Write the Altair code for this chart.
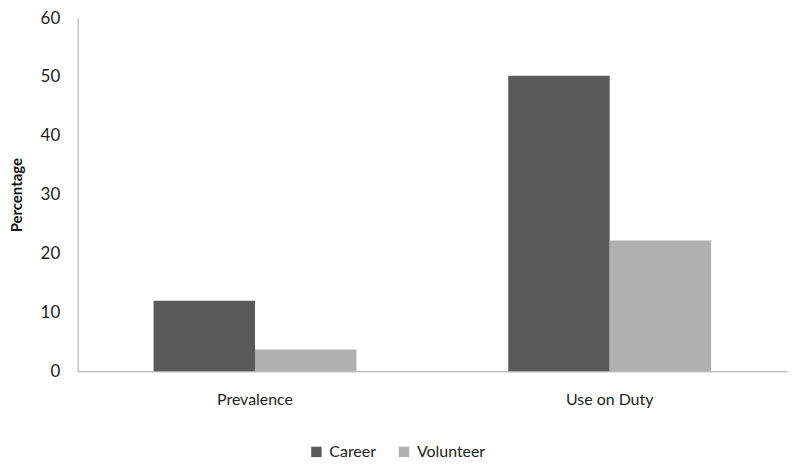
import altair as alt
import pandas as pd

categories = ["Prevalence", "Use on Duty"]
series = ["Career", "Volunteer"]
career = [12.0, 50.2]
volunteer = [3.7, 22.2]

rows = []
for i, c in enumerate(categories):
    rows.append({"category": c, "group": "Career", "value": career[i]})
    rows.append({"category": c, "group": "Volunteer", "value": volunteer[i]})
df = pd.DataFrame(rows)

FONT = "Lato"

chart = alt.Chart(df).mark_bar().encode(
    x=alt.X("category:N", sort=categories, title=None,
            scale=alt.Scale(paddingInner=0.428, paddingOuter=0.214),
            axis=alt.Axis(labelAngle=0, labelFontSize=16, labelColor="#222",
                          labelFont=FONT, ticks=False, domainColor="#a6a6a6",
                          labelPadding=20)),
    xOffset=alt.XOffset("group:N", sort=series, scale=alt.Scale(paddingInner=0, paddingOuter=0)),
    y=alt.Y("value:Q", title="Percentage",
            scale=alt.Scale(domain=[0, 60]),
            axis=alt.Axis(values=[0, 10, 20, 30, 40, 50, 60], grid=False, ticks=False,
                          labelFontSize=17, labelColor="#222", labelFont=FONT,
                          labelPadding=18, domainColor="#a6a6a6",
                          titleFont=FONT, titleFontSize=15, titleFontWeight="bold",
                          titleColor="#111", titlePadding=16)),
    color=alt.Color("group:N", sort=series,
                    scale=alt.Scale(domain=series, range=["#5a5a5a", "#b0b0b0"]),
                    legend=alt.Legend(title=None, orient="none", direction="horizontal",
                                      legendX=232, legendY=428,
                                      symbolType="square", symbolSize=110,
                                      symbolStrokeWidth=0,
                                      labelFont=FONT, labelFontSize=16, labelColor="#222",
                                      labelOffset=5, columnPadding=20)),
).properties(
    width=713, height=355,
    autosize=alt.AutoSizeParams(type="none"),
    padding={"left": 70, "top": 9, "right": 5, "bottom": 90},
).configure_view(stroke=None)

chart.save("out.html", embed_options={"renderer": "svg", "actions": False})
